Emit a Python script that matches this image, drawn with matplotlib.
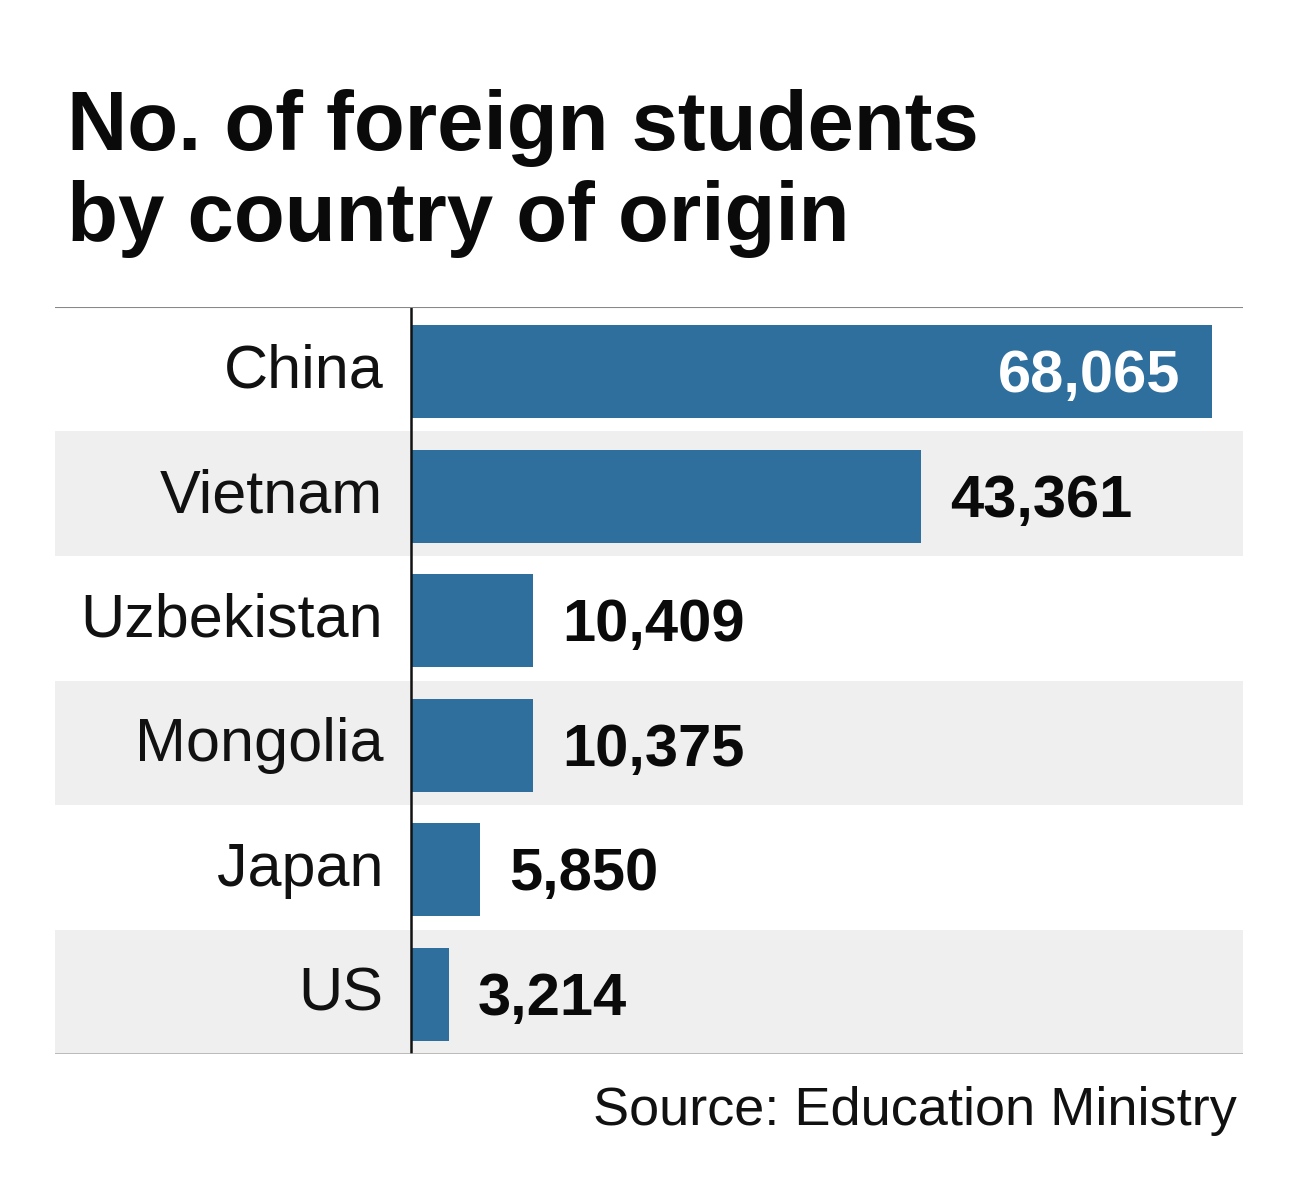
import matplotlib
matplotlib.use("Agg")
import matplotlib.pyplot as plt

plt.rcParams['font.family'] = ['Liberation Sans', 'DejaVu Sans']

countries = ["China", "Vietnam", "Uzbekistan", "Mongolia", "Japan", "US"]
students = [68065, 43361, 10409, 10375, 5850, 3214]

bar_color = "#2e6f9e"
stripe_color = "#efefef"

fig = plt.figure(figsize=(13, 12), dpi=100)
fig.patch.set_facecolor("white")

# axes box in figure pixels: x 55..1243, y 307..1054 (from top)
W, H = 1300, 1200
ax = fig.add_axes([55 / W, (H - 1054) / H, (1243 - 55) / W, (1054 - 307) / H])

scale = (1212 - 411) / students[0]        # px per student
ax.set_xlim(-(411 - 55) / scale, (1243 - 411) / scale)
ax.set_ylim(len(countries) - 0.5, -0.5)

# alternating gray rows
for i in range(len(countries)):
    if i % 2 == 1:
        ax.axhspan(i - 0.5, i + 0.5, color=stripe_color, lw=0, zorder=0)

ys = list(range(len(countries)))
ax.barh([y + 0.02 for y in ys], students, height=0.75, color=bar_color, zorder=2)

for i, (name, val) in enumerate(zip(countries, students)):
    ax.annotate(name, (0, i), xytext=(-20, -13.3), textcoords="offset points",
                ha="right", va="baseline", fontsize=44, color="#111111")
    label = f"{val:,}"
    if i == 0:
        ax.annotate(label, (val, i), xytext=(-23, -16.5), textcoords="offset points",
                    ha="right", va="baseline", fontsize=43, fontweight="bold", color="white")
    else:
        ax.annotate(label, (val, i), xytext=(21, -16.5), textcoords="offset points",
                    ha="left", va="baseline", fontsize=43, fontweight="bold", color="#0a0a0a")

ax.axvline(0, color="#111111", lw=1.8, zorder=3)
ax.axhline(-0.5, color="#888888", lw=1.5, zorder=3)
ax.axhline(len(countries) - 0.5, color="#aaaaaa", lw=1.8, zorder=3)

ax.set_xticks([])
ax.set_yticks([])
for s in ax.spines.values():
    s.set_visible(False)
ax.set_facecolor("white")

fig.text(67 / W, 1 - 150 / H, "No. of foreign students", fontsize=60, fontweight="bold",
         ha="left", va="baseline", color="#0a0a0a")
fig.text(67 / W, 1 - 241 / H, "by country of origin", fontsize=60, fontweight="bold",
         ha="left", va="baseline", color="#0a0a0a")
fig.text(1237 / W, 1 - 1125 / H, "Source: Education Ministry", fontsize=39,
         ha="right", va="baseline", color="#111111")

fig.savefig("out.png", dpi=100)
